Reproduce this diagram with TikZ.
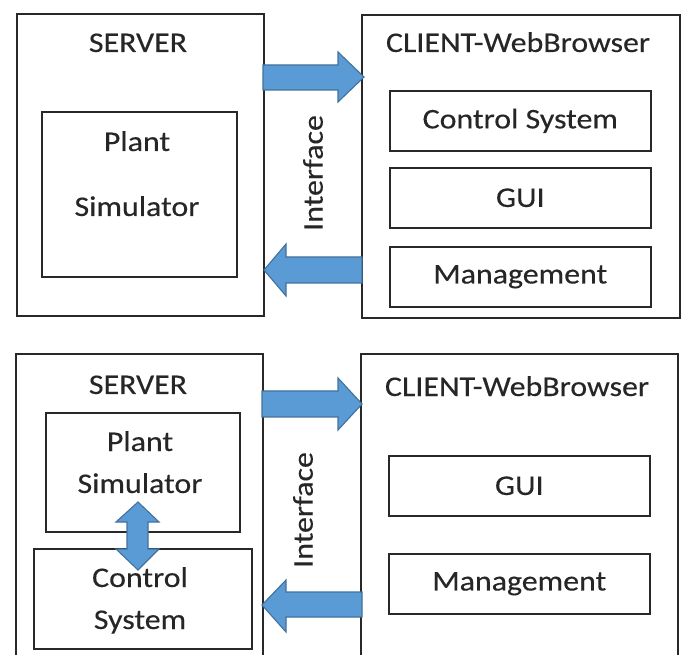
\documentclass[tikz,border=0pt]{standalone}
\usepackage{fontspec}
\setmainfont[FakeStretch=1.12,FakeBold=0.3]{Carlito}
\definecolor{arrowblue}{RGB}{91,155,213}
\definecolor{arrowedge}{RGB}{65,113,156}
\definecolor{boxline}{RGB}{40,40,40}
\begin{document}
\begin{tikzpicture}[x=1pt,y=-1pt,
  box/.style={draw=boxline, line width=1.6pt, inner sep=0pt, anchor=north west},
  lbl/.style={font=\fontsize{28.5}{30}\selectfont, text=black!85},
  txt/.style={lbl, inner sep=0pt, anchor=base},
  vtxt/.style={lbl, inner sep=0pt, anchor=center, rotate=90},
  barrow/.style={fill=arrowblue, draw=arrowedge, line width=1.1pt, line join=miter}]
\useasboundingbox (0,0) rectangle (681,655);

% ---------- top panel ----------
\node[box, minimum width=247pt, minimum height=302pt] (srv1) at (16,13) {};
\node[box, minimum width=195pt, minimum height=165pt] (plant1) at (41,111) {};
\node[box, minimum width=318pt, minimum height=303pt] (cli1) at (361,14) {};
\node[box, lbl, minimum width=261pt, minimum height=60pt] (cs1) at (389,90) {Control System};
\node[box, lbl, minimum width=261pt, minimum height=60pt] (gui1) at (389,167) {GUI};
\node[box, lbl, minimum width=261pt, minimum height=60pt] (mg1) at (389,246) {Management};
\node[txt] (srvt1) at (138,52) {SERVER};
\node[txt] (clit1) at (518,52) {CLIENT-WebBrowser};
\node[txt] (pl1) at (137,151) {Plant};
\node[txt] (sim1) at (137,216) {Simulator};
\node[vtxt] (if1) at (313,173) {Interface};

\draw[barrow] (263,65) -- (338,65) -- (338,52) -- (364,77) -- (338,102) -- (338,90) -- (263,90) -- cycle;
\draw[barrow] (362,257) -- (286,257) -- (286,244) -- (264,270) -- (286,296) -- (286,283) -- (362,283) -- cycle;

% ---------- bottom panel ----------
\node[box, minimum width=247pt, minimum height=310pt] (srv2) at (15,353) {};
\node[box, minimum width=194pt, minimum height=119pt] (plant2) at (45,412) {};
\node[box, minimum width=218pt, minimum height=100pt] (cs2) at (33,548) {};
\node[box, minimum width=317pt, minimum height=310pt] (cli2) at (360,353) {};
\node[box, lbl, minimum width=261pt, minimum height=60pt] (gui2) at (388,455) {GUI};
\node[box, lbl, minimum width=261pt, minimum height=60pt] (mg2) at (388,553) {Management};
\node[txt] (srvt2) at (138,394) {SERVER};
\node[txt] (clit2) at (517,396) {CLIENT-WebBrowser};
\node[txt] (pl2) at (140,451) {Plant};
\node[txt] (sim2) at (140,493) {Simulator};
\node[txt] (ctl2) at (140,587) {Control};
\node[txt] (sys2) at (140,629) {System};
\node[vtxt] (if2) at (303,510) {Interface};

\draw[barrow] (262,391) -- (338,391) -- (338,378) -- (362,404) -- (338,430) -- (338,417) -- (262,417) -- cycle;
\draw[barrow] (362,592) -- (286,592) -- (286,580) -- (262,605) -- (286,632) -- (286,617) -- (362,617) -- cycle;
\draw[barrow] (138,502) -- (159,522) -- (148,522) -- (148,549) -- (159,549) -- (138,570)
  -- (116,549) -- (127,549) -- (127,522) -- (116,522) -- cycle;
\end{tikzpicture}
\end{document}
